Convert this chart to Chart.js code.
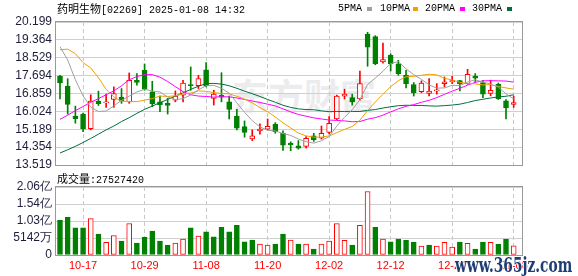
<!DOCTYPE html>
<html>
<head>
<meta charset="utf-8">
<script src="https://cdn.jsdelivr.net/npm/chart.js@4.4.1/dist/chart.umd.min.js"></script>
<style>
    html, body { margin: 0; padding: 0; background: #fff; }
    #wrap { position: relative; width: 578px; height: 276px; overflow: hidden; }
    #wrap canvas { position: absolute; left: 0; top: 0; }
    .txt { position: absolute; white-space: nowrap; color: #000; line-height: 12px; }
    .mono { font-family: "Liberation Mono", monospace; font-size: 10px; }
    .cjk { font-family: "Noto Sans CJK SC", sans-serif; font-size: 11px; }
    .sq { position: absolute; width: 5px; height: 4px; }
    #mark { position: absolute; left: 232px; top: 68px; font: bold 36px "Noto Sans CJK SC", sans-serif;
            color: rgba(190, 190, 200, 0.3); letter-spacing: 0px; }
    #site { position: absolute; left: 455px; top: 253px; font: bold 20px "DejaVu Serif Condensed", serif;
            color: #1f3d73; transform-origin: 0 0;
            text-shadow: 1px 0 #fff, -1px 0 #fff, 0 1px #fff, 0 -1px #fff; }
</style>
</head>
<body>
<div id="wrap">
    <div id="mark">东方财富</div>
    <canvas id="priceChart" width="578" height="276"></canvas>
    <canvas id="volumeChart" width="578" height="276"></canvas>
    <div class="txt mono" style="left:57px; top:2px;"><span class="cjk">药明生物</span>[02269] 2025-01-08 14:32</div>
    <div class="txt mono" style="left:338px; top:3px;">5PMA</div>
    <div class="sq" style="left:367px; top:7px; background:#a0a0a0;"></div>
    <div class="txt mono" style="left:380px; top:3px;">10PMA</div>
    <div class="sq" style="left:413px; top:7px; background:#f0a000;"></div>
    <div class="txt mono" style="left:425px; top:3px;">20PMA</div>
    <div class="sq" style="left:460px; top:7px; background:#ff00ff;"></div>
    <div class="txt mono" style="left:472px; top:3px;">30PMA</div>
    <div class="sq" style="left:507px; top:7px; background:#006f3c;"></div>
    <div class="txt mono" id="volLabel" style="left:57px; top:172px;"><span class="cjk">成交量</span>:27527420</div>
    <div id="site">www.365jz.com</div>
</div>
<script>
// trading days shown on the chart
const dates = ['10-14','10-15','10-16','10-17','10-18','10-21','10-22','10-23','10-24','10-25',
    '10-28','10-29','10-30','10-31','11-01','11-04','11-05','11-06','11-07','11-08',
    '11-11','11-12','11-13','11-14','11-15','11-18','11-19','11-20','11-21','11-22',
    '11-25','11-26','11-27','11-28','11-29','12-02','12-03','12-04','12-05','12-06',
    '12-09','12-10','12-11','12-12','12-13','12-16','12-17','12-18','12-19','12-20',
    '12-23','12-24','12-27','12-30','12-31','01-02','01-03','01-06','01-07','01-08'];

// days that carry a date label / dashed grid line
const labelIdx = [3, 11, 19, 27, 35, 43, 51, 59];

const opens = [17.66,17.20,15.81,15.90,15.22,16.50,16.42,16.58,16.69,16.47,
    17.48,17.94,16.94,16.47,16.40,16.55,16.78,17.28,17.23,17.97,
    16.63,16.78,16.47,15.81,15.31,14.74,15.11,15.19,15.42,15.00,
    14.54,14.42,14.39,14.88,14.77,15.04,15.67,16.74,16.67,16.60,
    19.64,19.52,18.33,18.64,18.25,17.71,17.28,16.94,16.86,16.98,
    17.32,17.40,17.46,17.32,17.66,17.37,16.86,17.29,16.52,16.35];
const highs = [17.71,17.55,16.27,15.95,16.80,16.97,16.83,17.17,17.09,17.82,
    17.79,18.24,17.43,16.74,16.63,16.98,17.48,18.10,17.71,18.30,
    17.01,17.83,16.74,16.12,15.58,15.16,15.44,15.67,15.50,15.11,
    14.60,14.66,14.85,15.00,15.34,15.78,16.78,17.06,16.83,17.91,
    19.72,19.56,19.21,18.71,18.41,17.94,17.37,17.45,17.56,17.32,
    17.63,17.66,17.48,17.99,17.79,17.48,17.48,17.35,16.58,16.74];
const lows = [16.60,15.90,15.47,15.08,15.16,16.30,16.21,16.21,16.40,16.40,
    17.25,17.01,16.24,16.01,15.90,16.47,16.47,17.01,17.09,17.17,
    16.32,16.47,15.67,15.16,14.82,14.66,14.96,15.16,15.00,14.20,
    14.19,14.26,14.31,14.62,14.73,14.97,15.63,16.60,16.32,16.55,
    18.13,18.20,18.28,17.91,17.71,17.12,16.74,16.89,16.75,16.83,
    17.17,17.32,16.98,17.29,17.40,16.67,16.75,16.58,15.67,16.21];
const closes = [17.35,16.35,15.68,15.20,16.50,16.38,16.45,16.86,16.50,17.48,
    17.38,17.09,16.38,16.34,16.30,16.74,17.35,17.22,17.56,17.22,
    16.83,16.69,16.12,15.24,15.04,14.88,15.20,15.33,15.08,14.44,
    14.47,14.31,14.77,14.70,15.00,15.47,16.74,16.83,16.47,17.32,
    19.02,18.25,18.44,18.25,17.79,17.32,16.89,17.35,16.97,17.01,
    17.40,17.46,17.32,17.76,17.57,16.83,17.01,16.61,16.19,16.43];

// moving averages
const ma5 = [19.05,18.42,17.50,16.75,16.22,16.02,16.04,16.28,16.54,16.73,
    16.93,17.06,16.97,16.93,16.70,16.57,16.62,16.79,17.03,17.22,
    17.24,17.10,16.88,16.42,15.98,15.59,15.30,15.14,15.11,14.99,
    14.90,14.73,14.61,14.54,14.65,14.85,15.34,15.75,16.10,16.57,
    17.28,17.58,17.90,18.26,18.35,18.01,17.74,17.52,17.26,17.11,
    17.12,17.24,17.23,17.39,17.50,17.39,17.30,17.16,16.84,16.61];
const ma10 = [18.90,18.93,18.72,18.30,18.05,17.60,17.05,16.70,16.50,16.48,
    16.48,16.55,16.62,16.74,16.72,16.75,16.84,16.88,16.98,16.96,
    16.90,16.86,16.84,16.73,16.60,16.42,16.20,16.01,15.76,15.49,
    15.25,15.01,14.88,14.82,14.82,14.88,15.03,15.18,15.32,15.61,
    16.06,16.46,16.82,17.18,17.46,17.64,17.66,17.71,17.76,17.73,
    17.57,17.49,17.38,17.33,17.31,17.26,17.27,17.19,17.12,17.06];
const ma20 = [15.65,15.85,16.06,16.25,16.45,16.62,16.80,16.98,17.22,17.50,
    17.65,17.74,17.74,17.62,17.42,17.18,16.95,16.80,16.74,16.72,
    16.69,16.71,16.70,16.65,16.58,16.51,16.44,16.36,16.28,16.14,
    16.00,15.88,15.80,15.72,15.67,15.62,15.60,15.58,15.54,15.55,
    15.66,15.73,15.85,16.00,16.14,16.26,16.34,16.45,16.54,16.67,
    16.82,16.97,17.10,17.25,17.38,17.45,17.46,17.45,17.44,17.39];
const ma30 = [14.08,14.23,14.39,14.57,14.76,14.96,15.16,15.34,15.55,15.73,
    15.93,16.12,16.27,16.43,16.58,16.74,16.89,17.05,17.20,17.32,
    17.33,17.30,17.22,17.10,16.97,16.85,16.72,16.58,16.45,16.31,
    16.21,16.14,16.11,16.10,16.05,16.01,16.02,16.02,16.02,16.02,
    16.07,16.11,16.18,16.24,16.29,16.31,16.30,16.30,16.28,16.27,
    16.29,16.32,16.36,16.44,16.53,16.59,16.65,16.70,16.73,16.80];

const volumes = [105e6,114e6,82e6,82e6,110e6,63e6,38e6,59e6,42e6,95e6,
    36e6,54e6,72e6,42e6,30e6,36e6,48e6,82e6,57e6,70e6,
    55e6,84e6,70e6,90e6,40e6,45e6,33e6,30e6,33e6,63e6,
    45e6,33e6,33e6,18e6,33e6,42e6,95e6,44e6,30e6,90e6,
    192e6,84e6,48e6,40e6,48e6,44e6,39e6,27e6,30e6,27e6,
    38e6,24e6,39e6,35e6,18e6,39e6,38e6,32e6,48e6,27527420];

const priceTicks = [13.519, 14.354, 15.189, 16.024, 16.859, 17.694, 18.529, 19.364, 20.199];
const volTicks = [0, 51420000, 102840000, 154260000, 205680000];
const volTickLabels = ['0', '5142万', '1.03亿', '1.54亿', '2.06亿'];

const RED = '#ff0000';
const GREEN = '#008000';
const X_MIN = -0.52, X_MAX = 60.08;

// candle colour: close vs open; volume colour: close vs previous close
const candleUp = closes.map((c, i) => c >= opens[i]);
const volUp = closes.map((c, i) => i === 0 ? c >= opens[0] : c >= closes[i - 1]);

const framePlugin = {
    id: 'frame',
    afterDraw(chart) {
        const a = chart.chartArea;
        const ctx = chart.ctx;
        ctx.save();
        ctx.strokeStyle = '#999';
        ctx.lineWidth = 1;
        ctx.strokeRect(a.left - 0.5, a.top - 0.5, a.right - a.left + 1, a.bottom - a.top + 1);
        ctx.restore();
    }
};

function xAxis(showLabels) {
    return {
        type: 'linear', min: X_MIN, max: X_MAX, offset: false,
        grid: { color: '#c8c8c8', offset: false, drawTicks: false },
        border: { display: false, dash: [4, 3] },
        afterBuildTicks: s => { s.ticks = labelIdx.map(v => ({ value: v })); },
        afterFit: s => { s.height = showLabels ? 21 : 0; },
        ticks: {
            display: showLabels, autoSkip: false, maxRotation: 0, padding: 4,
            color: RED, font: { family: 'Liberation Sans', size: 11 },
            callback: v => dates[v]
        }
    };
}

function yAxis(min, max, ticks, labelFn) {
    return {
        type: 'linear', min: min, max: max,
        grid: { color: '#d0d0d0', drawTicks: false },
        border: { display: false },
        afterBuildTicks: s => { s.ticks = ticks.map(v => ({ value: v })); },
        afterFit: s => { s.width = 56; },
        ticks: {
            autoSkip: false, padding: 4, color: '#1e1e3c',
            font: { family: 'Liberation Sans', size: 12 },
            callback: labelFn
        }
    };
}

const commonOpts = {
    responsive: false,
    animation: false,
    events: [],
    plugins: { legend: { display: false }, tooltip: { enabled: false } }
};

function maLine(label, values, color) {
    return {
        type: 'line', label: label,
        data: values.map((v, i) => ({ x: i, y: v })),
        borderColor: color, borderWidth: 1, pointRadius: 0, tension: 0, fill: false
    };
}

new Chart(document.getElementById('priceChart'), {
    type: 'bar',
    data: {
        datasets: [
            maLine('5PMA', ma5, '#a0a0a0'),
            maLine('10PMA', ma10, '#f0a000'),
            maLine('20PMA', ma20, '#ff00ff'),
            maLine('30PMA', ma30, '#006f3c'),
            {
                label: 'body',
                data: opens.map((o, i) => ({ x: i, y: [o, closes[i]] })),
                backgroundColor: candleUp.map(u => u ? '#ffffff' : GREEN),
                borderColor: candleUp.map(u => u ? RED : GREEN),
                borderWidth: 1, borderSkipped: false,
                barThickness: 5, grouped: false, minBarLength: 1
            },
            {
                label: 'wick',
                data: lows.map((l, i) => ({ x: i, y: [l, highs[i]] })),
                backgroundColor: candleUp.map(u => u ? RED : GREEN),
                borderWidth: 0, barThickness: 1, grouped: false
            }
        ]
    },
    options: {
        ...commonOpts,
        layout: { padding: { top: 22, bottom: 111, left: 0, right: 56 } },
        scales: {
            x: xAxis(false),
            y: yAxis(priceTicks[0], priceTicks[priceTicks.length - 1], priceTicks, v => v.toFixed(3))
        }
    },
    plugins: [framePlugin]
});

new Chart(document.getElementById('volumeChart'), {
    type: 'bar',
    data: {
        datasets: [{
            label: 'volume',
            data: volumes.map((v, i) => ({ x: i, y: v })),
            backgroundColor: volUp.map(u => u ? '#ffffff' : GREEN),
            borderColor: volUp.map(u => u ? RED : GREEN),
            borderWidth: 1, borderSkipped: false,
            barThickness: 5, grouped: false
        }]
    },
    options: {
        ...commonOpts,
        layout: { padding: { top: 187, bottom: 0, left: 0, right: 56 } },
        scales: {
            x: xAxis(true),
            y: yAxis(0, volTicks[volTicks.length - 1], volTicks, (v, i) => volTickLabels[i])
        }
    },
    plugins: [framePlugin]
});

// squeeze the site stamp to the width it has in the picture
const site = document.getElementById('site');
site.style.transform = 'scaleX(' + (117 / site.offsetWidth) + ')';
</script>
</body>
</html>
